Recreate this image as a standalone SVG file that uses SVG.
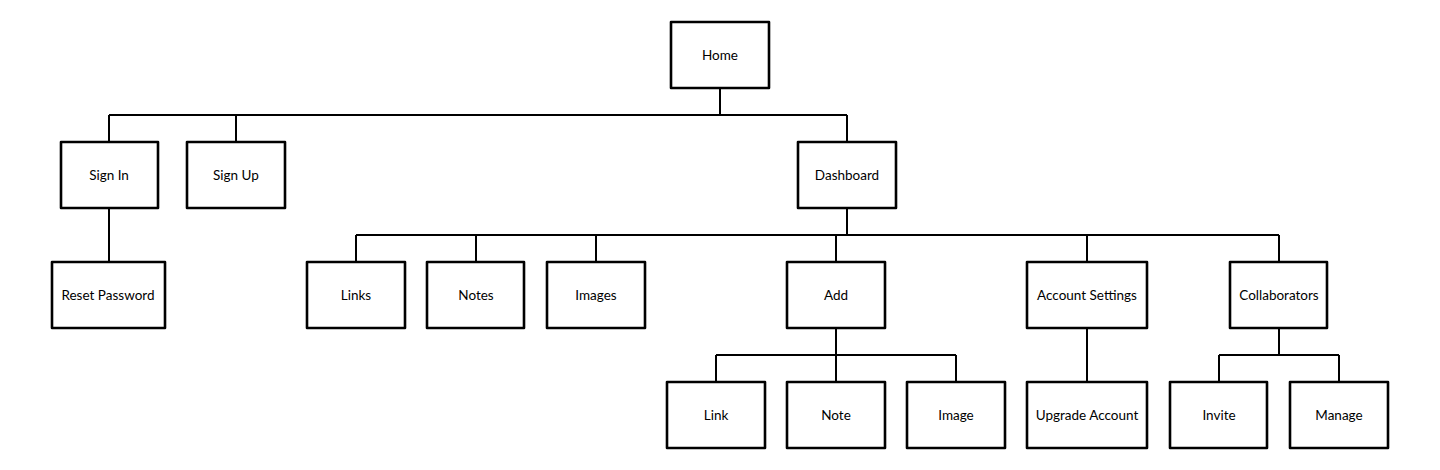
<svg xmlns="http://www.w3.org/2000/svg" width="1440" height="470" viewBox="0 0 1440 470">
<style>
.box{fill:#fff;stroke:#000;stroke-width:2.6;stroke-linejoin:round}
.lbl{font-family:Lato,"Open Sans",sans-serif;font-size:13.5px;fill:#000;text-anchor:middle;dominant-baseline:central}
.con path{fill:none;stroke:#000;stroke-width:2}
</style>
<rect width="1440" height="470" fill="#fff"/>
<g class="con" id="connectors">
<path d="M720 88V115M109 115H847M109 115V142M236 115V142M847 115V142"/>
<path d="M109 208V262"/>
<path d="M847 208V235M356 235H1279M356 235V262M476 235V262M596 235V262M836 235V262M1087 235V262M1279 235V262"/>
<path d="M836 328V355M716 355H956M716 355V382M836 355V382M956 355V382"/>
<path d="M1087 328V382"/>
<path d="M1279 328V355M1219 355H1339M1219 355V382M1339 355V382"/>
</g>
<g id="home"><rect class="box" x="671" y="22" width="98" height="66"/><text class="lbl" x="720" y="55">Home</text></g>
<g id="signin"><rect class="box" x="61" y="142" width="97" height="66"/><text class="lbl" x="109" y="175">Sign In</text></g>
<g id="signup"><rect class="box" x="187" y="142" width="98" height="66"/><text class="lbl" x="236" y="175">Sign Up</text></g>
<g id="dashboard"><rect class="box" x="798" y="142" width="98" height="66"/><text class="lbl" x="847" y="175">Dashboard</text></g>
<g id="reset"><rect class="box" x="52" y="262" width="113" height="66"/><text class="lbl" x="108" y="295">Reset Password</text></g>
<g id="links"><rect class="box" x="307" y="262" width="98" height="66"/><text class="lbl" x="356" y="295">Links</text></g>
<g id="notes"><rect class="box" x="427" y="262" width="97" height="66"/><text class="lbl" x="476" y="295">Notes</text></g>
<g id="images"><rect class="box" x="547" y="262" width="98" height="66"/><text class="lbl" x="596" y="295">Images</text></g>
<g id="add"><rect class="box" x="787" y="262" width="98" height="66"/><text class="lbl" x="836" y="295">Add</text></g>
<g id="account"><rect class="box" x="1027" y="262" width="120" height="66"/><text class="lbl" x="1087" y="295">Account Settings</text></g>
<g id="collab"><rect class="box" x="1230" y="262" width="97" height="66"/><text class="lbl" x="1279" y="295">Collaborators</text></g>
<g id="link"><rect class="box" x="667" y="382" width="98" height="66"/><text class="lbl" x="716" y="415">Link</text></g>
<g id="note"><rect class="box" x="787" y="382" width="98" height="66"/><text class="lbl" x="836" y="415">Note</text></g>
<g id="image"><rect class="box" x="907" y="382" width="98" height="66"/><text class="lbl" x="956" y="415">Image</text></g>
<g id="upgrade"><rect class="box" x="1027" y="382" width="120" height="66"/><text class="lbl" x="1087" y="415">Upgrade Account</text></g>
<g id="invite"><rect class="box" x="1170" y="382" width="97" height="66"/><text class="lbl" x="1219" y="415">Invite</text></g>
<g id="manage"><rect class="box" x="1290" y="382" width="98" height="66"/><text class="lbl" x="1339" y="415">Manage</text></g>
</svg>
